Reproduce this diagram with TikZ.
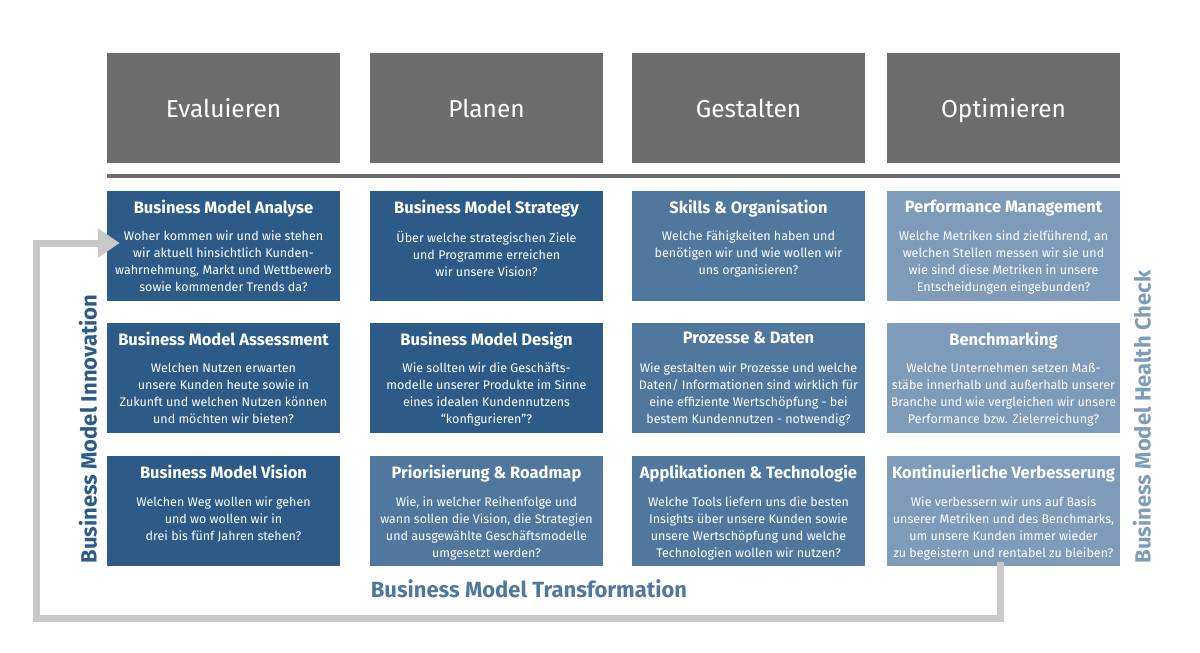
\documentclass[tikz,border=0pt]{standalone}
\usepackage{fontspec}
\setmainfont{Fira Sans}
\usetikzlibrary{positioning,arrows.meta}

\definecolor{headgray}{HTML}{6E6D6E}
\definecolor{darkblue}{HTML}{2D5B88}
\definecolor{midblue}{HTML}{50789F}
\definecolor{lightblue}{HTML}{7E9CBA}
\definecolor{loopgray}{HTML}{C8C8C8}

\begin{document}
\begin{tikzpicture}
[
    x=1pt, y=-1pt,
    head/.style = {fill=headgray,
                   minimum width=233pt,
                   minimum height=110pt,
                   inner sep=0pt,
                   text=white,
                   text height=18pt,
                   text depth=0pt,
                   font=\fontsize{24.5}{28}\selectfont},
    cell/.style = {minimum width=233pt,
                   minimum height=110pt,
                   inner sep=0pt},
    ttl/.style  = {text=white,
                   inner sep=0pt,
                   anchor=north,
                   font=\bfseries\fontsize{16.5}{19}\selectfont},
    txt/.style  = {text=white,
                   inner sep=0pt,
                   anchor=north,
                   align=center,
                   font=\fontsize{12.5}{17}\selectfont},
    side/.style = {inner sep=0pt,
                   font=\bfseries\fontsize{22}{26}\selectfont},
    loop/.style = {draw=loopgray,
                   line width=7pt,
                   -{Triangle[width=28pt,length=22pt]}}
]

\useasboundingbox (0,0) rectangle (1200,653);

% phases
\node (h1) [head] at (223.5,108) {Evaluieren};
\node (h2) [head] at (486.5,108) {Planen};
\node (h3) [head] at (748.5,108) {Gestalten};
\node (h4) [head] at (1003.5,108) {Optimieren};

\draw[headgray, line width=4pt] ([yshift=-13pt]h1.south west) -- ([yshift=-13pt]h4.south east);

% row 1
\node (c11) [cell, fill=darkblue] at (223.5,245.5) {};
\node (t11) [ttl] at ([yshift=-9.5pt]c11.north) {Business Model Analyse};
\node (b11) [txt] at ([yshift=-40.5pt]c11.north) {Woher kommen wir und wie stehen\\wir aktuell hinsichtlich Kunden-\\wahrnehmung, Markt und Wettbewerb\\sowie kommender Trends da?};

\node (c12) [cell, fill=darkblue] at (486.5,245.5) {};
\node (t12) [ttl] at ([yshift=-9.5pt]c12.north) {Business Model Strategy};
\node (b12) [txt] at ([yshift=-40.5pt]c12.north) {Über welche strategischen Ziele\\und Programme erreichen\\wir unsere Vision?};

\node (c13) [cell, fill=midblue] at (748.5,245.5) {};
\node (t13) [ttl] at ([yshift=-9.5pt]c13.north) {Skills \& Organisation};
\node (b13) [txt] at ([yshift=-40.5pt]c13.north) {Welche Fähigkeiten haben und\\benötigen wir und wie wollen wir\\uns organisieren?};

\node (c14) [cell, fill=lightblue] at (1003.5,245.5) {};
\node (t14) [ttl] at ([yshift=-9.5pt]c14.north) {Performance Management};
\node (b14) [txt] at ([yshift=-40.5pt]c14.north) {Welche Metriken sind zielführend, an\\welchen Stellen messen wir sie und\\wie sind diese Metriken in unsere\\Entscheidungen eingebunden?};

% row 2
\node (c21) [cell, fill=darkblue] at (223.5,377.5) {};
\node (t21) [ttl] at ([yshift=-9.5pt]c21.north) {Business Model Assessment};
\node (b21) [txt] at ([yshift=-40.5pt]c21.north) {Welchen Nutzen erwarten\\unsere Kunden heute sowie in\\Zukunft und welchen Nutzen können\\und möchten wir bieten?};

\node (c22) [cell, fill=darkblue] at (486.5,377.5) {};
\node (t22) [ttl] at ([yshift=-9.5pt]c22.north) {Business Model Design};
\node (b22) [txt] at ([yshift=-40.5pt]c22.north) {Wie sollten wir die Geschäfts-\\modelle unserer Produkte im Sinne\\eines idealen Kundennutzens\\“konfigurieren”?};

\node (c23) [cell, fill=midblue] at (748.5,377.5) {};
\node (t23) [ttl] at ([yshift=-9.5pt]c23.north) {Prozesse \& Daten};
\node (b23) [txt] at ([yshift=-40.5pt]c23.north) {Wie gestalten wir Prozesse und welche\\Daten/ Informationen sind wirklich für\\eine effiziente Wertschöpfung - bei\\bestem Kundennutzen - notwendig?};

\node (c24) [cell, fill=lightblue] at (1003.5,377.5) {};
\node (t24) [ttl] at ([yshift=-9.5pt]c24.north) {Benchmarking};
\node (b24) [txt] at ([yshift=-40.5pt]c24.north) {Welche Unternehmen setzen Maß-\\stäbe innerhalb und außerhalb unserer\\Branche und wie vergleichen wir unsere\\Performance bzw. Zielerreichung?};

% row 3
\node (c31) [cell, fill=darkblue] at (223.5,511) {};
\node (t31) [ttl] at ([yshift=-9.5pt]c31.north) {Business Model Vision};
\node (b31) [txt] at ([yshift=-40.5pt]c31.north) {Welchen Weg wollen wir gehen\\und wo wollen wir in\\drei bis fünf Jahren stehen?};

\node (c32) [cell, fill=midblue] at (486.5,511) {};
\node (t32) [ttl] at ([yshift=-9.5pt]c32.north) {Priorisierung \& Roadmap};
\node (b32) [txt] at ([yshift=-40.5pt]c32.north) {Wie, in welcher Reihenfolge und\\wann sollen die Vision, die Strategien\\und ausgewählte Geschäftsmodelle\\umgesetzt werden?};

\node (c33) [cell, fill=midblue] at (748.5,511) {};
\node (t33) [ttl] at ([yshift=-9.5pt]c33.north) {Applikationen \& Technologie};
\node (b33) [txt] at ([yshift=-40.5pt]c33.north) {Welche Tools liefern uns die besten\\Insights über unsere Kunden sowie\\unsere Wertschöpfung und welche\\Technologien wollen wir nutzen?};

\node (c34) [cell, fill=lightblue] at (1003.5,511) {};
\node (t34) [ttl] at ([yshift=-9.5pt]c34.north) {Kontinuierliche Verbesserung};
\node (b34) [txt] at ([yshift=-40.5pt]c34.north) {Wie verbessern wir uns auf Basis\\unserer Metriken und des Benchmarks,\\um unsere Kunden immer wieder\\zu begeistern und rentabel zu bleiben?};

% side labels
\node (inno) [side, text=darkblue, rotate=90] at (88,429) {Business Model Innovation};
\node (health) [side, text=lightblue, rotate=90] at (1142,417) {Business Model Health Check};
\node (trans) [side, text=midblue] at (529,589) {Business Model Transformation};

% loop back
\coordinate (lb) at (36,618);
\draw[loop] ([xshift=-3.5pt,yshift=4pt]c34.south) |- (lb) |- ([xshift=13pt,yshift=2.5pt]c11.west);

\end{tikzpicture}
\end{document}
